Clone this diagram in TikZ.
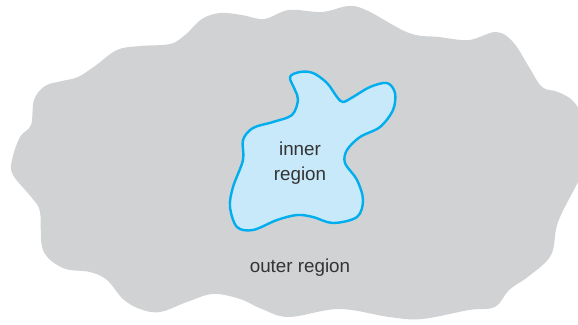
\documentclass[tikz,border=0pt]{standalone}
\usepackage{fontspec}
\setmainfont{Liberation Sans}
\definecolor{outergray}{HTML}{D1D2D4}
\definecolor{innerfill}{HTML}{C7E9F9}
\definecolor{innerline}{HTML}{00AEEF}
\definecolor{txt}{HTML}{333333}
\begin{document}
\begin{tikzpicture}[x=1pt,y=-1pt,
  lbl/.style={font=\fontsize{18.8}{25}\selectfont, text=txt, align=center, inner sep=0pt}]
\useasboundingbox (0,0) rectangle (578,324);
\clip (0,0) rectangle (578,324);
\fill[outergray] plot[smooth cycle, tension=0.6] coordinates {
(12,160) (20,137) (31,125) (34,100) (45,86) (62,81) (78,77) (95,66) (117,50) (140,46) (170,44) (185,35) (202,19) (220,13) (242,15) (264,19) (289,10) (322,12) (349,6) (368,11) (409,33) (439,37) (469,40) (496,32) (513,42) (529,67) (542,87) (558,92) (574,102) (586,125) (588,160) (578,182) (558,222) (551,255) (529,276) (509,290) (495,307) (469,310) (422,319) (389,317) (339,309) (289,317) (262,309) (240,299) (213,294) (187,302) (160,312) (140,309) (123,299) (107,280) (90,272) (63,268) (43,250) (40,212) (32,198) (13,175)};
\draw[innerline, fill=innerfill, line width=2.4pt] plot[smooth cycle, tension=0.55] coordinates {
(290,77) (300,72) (313,73) (327,83) (337,97) (343,102) (353,97) (370,87) (387,83) (395,93) (393,110) (380,127) (360,137) (347,150) (345,163) (357,180) (363,200) (357,217) (333,223) (313,217) (297,215) (277,220) (253,230) (237,227) (230,207) (233,187) (243,160) (243,140) (253,128) (273,122) (292,115) (298,100) (295,90)};
\node[lbl] (inner) at (300,163) {inner\\region};
\node[lbl] (outer) at (300,268) {outer region};
\end{tikzpicture}
\end{document}
